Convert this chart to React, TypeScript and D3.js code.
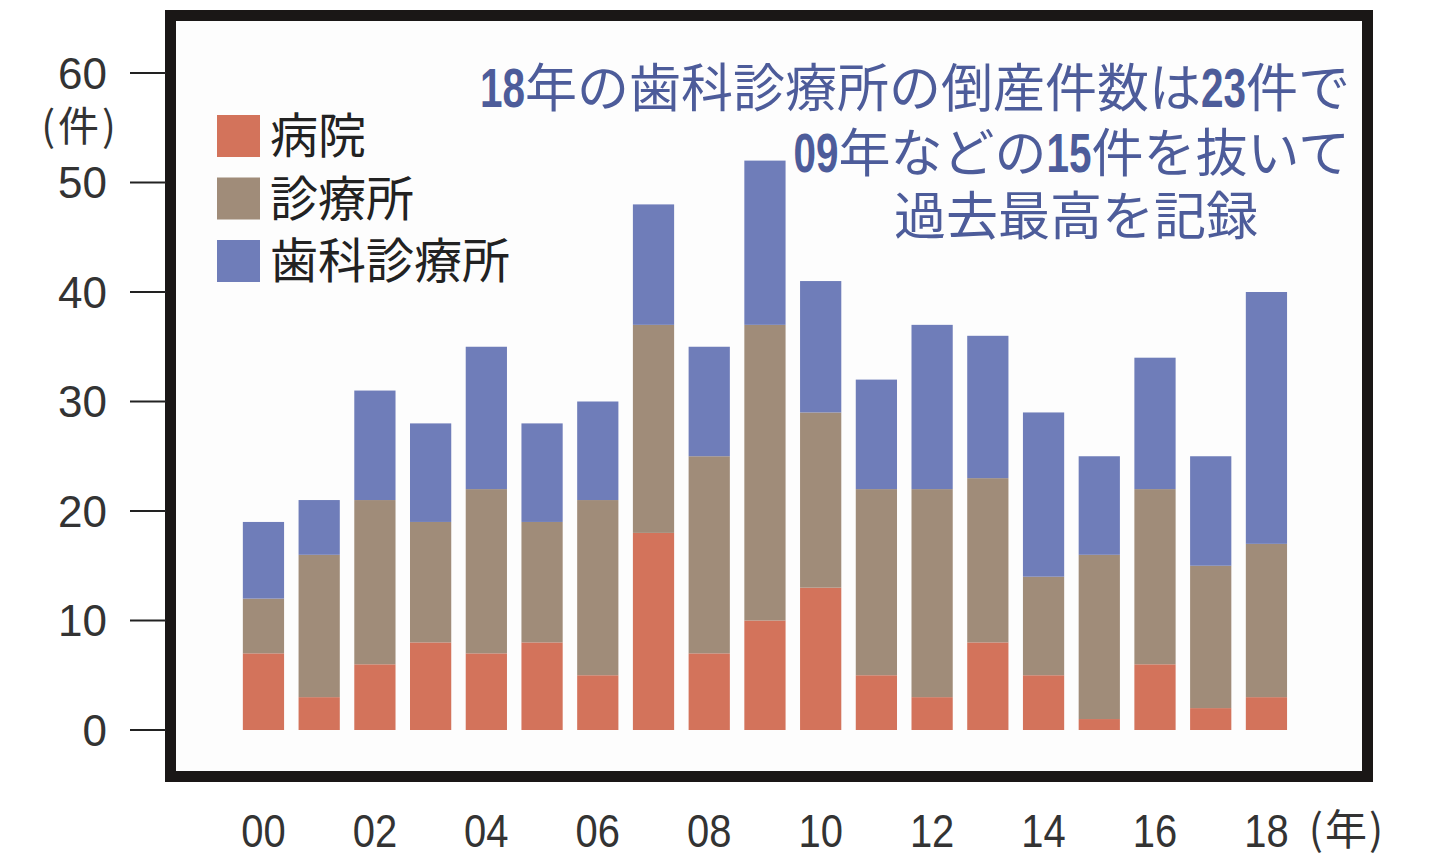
import React from "react";
import * as d3 from "d3";

const years = ["00","01","02","03","04","05","06","07","08","09","10","11","12","13","14","15","16","17","18"];
const hospital = [7,3,6,8,7,8,5,18,7,10,13,5,3,8,5,1,6,2,3];
const clinic = [5,13,15,11,15,11,16,19,18,27,16,17,19,15,9,15,16,13,14];
const dental = [7,5,10,9,13,9,9,11,10,15,12,10,15,13,15,9,12,10,23];
const seriesNames = ["病院", "診療所", "歯科診療所"];
const seriesColors = ["#D3735B", "#A08C79", "#6F7DB9"];
const yTicks = [0, 10, 20, 30, 40, 50, 60];
const xLabelYears = ["00","02","04","06","08","10","12","14","16","18"];

const W = 1445, H = 856;
const JP = "'Noto Sans CJK JP', 'Noto Sans', sans-serif";
const NUM = "'Liberation Sans', Arial, sans-serif";

function Digits({ s }: { s: string }) {
  return (
    <tspan fontFamily={NUM} fontWeight="bold" fontSize={55} textLength={45} lengthAdjust="spacingAndGlyphs">{s}</tspan>
  );
}

export default function App() {
  const x = d3.scaleBand<string>().domain(years).range([235.6, 1294.3]).paddingInner(0.26).paddingOuter(0.13);
  const y = d3.scaleLinear().domain([0, 60]).range([730, 73]);

  const rows = years.map((yr, i) => ({ yr, hospital: hospital[i], clinic: clinic[i], dental: dental[i] }));
  const stack = d3.stack<any>().keys(["hospital", "clinic", "dental"])(rows);

  const noteColor = "#4D5C9A";

  return (
    <svg width={W} height={H} style={{ position: "absolute", left: 0, top: 0, background: "#fff" }}>
      <rect x={0} y={0} width={W} height={H} fill="#ffffff" />
      {/* frame */}
      <rect x={170.5} y={15.5} width={1197} height={761} fill="#fdfdfd" stroke="#1a1716" strokeWidth={11} />
      {/* y ticks */}
      {yTicks.map(t => (
        <g key={t}>
          <line x1={130} x2={166} y1={y(t)} y2={y(t)} stroke="#222" strokeWidth={2} />
          <text x={107} y={y(t)} dy="0.36em" textAnchor="end" fontFamily={NUM} fontSize={44} fill="#333">{t}</text>
        </g>
      ))}
      <text x={80} y={127} dy="0.35em" textAnchor="middle" fontFamily={JP} fontSize={41} letterSpacing={3} fill="#333">(件)</text>
      {/* bars */}
      {stack.map((s, si) => (
        <g key={si} fill={seriesColors[si]}>
          {s.map((d, i) => (
            <rect key={i} x={x(years[i])} width={x.bandwidth()} y={y(d[1])} height={y(d[0]) - y(d[1])} />
          ))}
        </g>
      ))}
      {/* x labels */}
      {xLabelYears.map(yr => {
        const cx = (x(yr) as number) + x.bandwidth() / 2;
        return (
          <text key={yr} x={cx} y={847} textAnchor="middle" fontFamily={NUM} fontSize={47} fill="#333"
            transform={`translate(${cx},0) scale(0.85,1) translate(${-cx},0)`}>{yr}</text>
        );
      })}
      <text x={1347} y={845} textAnchor="middle" fontFamily={JP} fontSize={42} letterSpacing={2} fill="#333">(年)</text>
      {/* legend */}
      {seriesNames.map((n, i) => (
        <g key={n}>
          <rect x={217} y={115 + i * 62.5} width={43} height={42} fill={seriesColors[i]} />
          <text x={270} y={136 + i * 62.5} dy="0.36em" fontFamily={JP} fontSize={48} fill="#222">{n}</text>
        </g>
      ))}
      {/* annotation */}
      <g fill={noteColor} fontFamily={JP} fontSize={52}>
        <text x={1350} y={88} dy="0.36em" textAnchor="end">
          <Digits s="18" />年の歯科診療所の倒産件数は<Digits s="23" />件で
        </text>
        <text x={1350} y={153} dy="0.36em" textAnchor="end">
          <Digits s="09" />年などの<Digits s="15" />件を抜いて
        </text>
        <text x={1076} y={216} dy="0.36em" textAnchor="middle">過去最高を記録</text>
      </g>
    </svg>
  );
}
